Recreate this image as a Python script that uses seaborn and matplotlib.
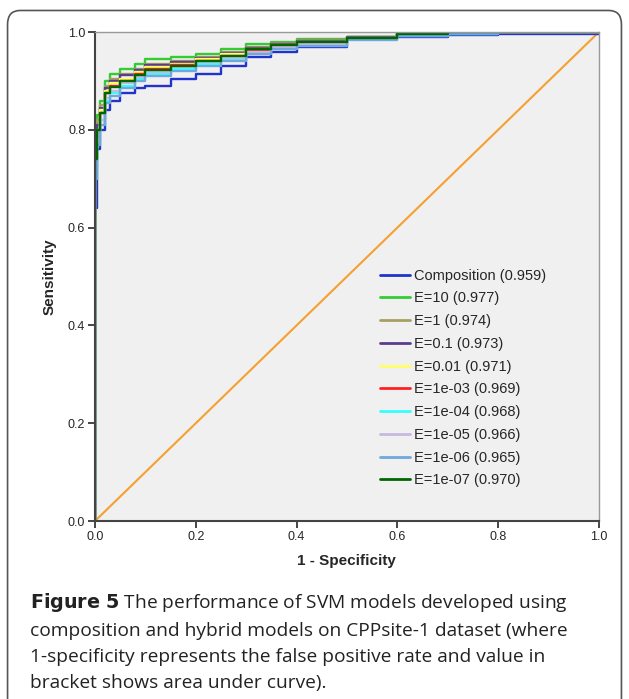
import numpy as np
import pandas as pd
import matplotlib.pyplot as plt
from matplotlib.patches import FancyBboxPatch
import seaborn as sns

sns.set_theme(style="white")
plt.rcParams["font.family"] = ["Liberation Sans", "DejaVu Sans"]

# ── DATA ──────────────────────────────────────────────────────
fpr = [0.0, 0.0, 0.005, 0.01, 0.02, 0.03, 0.05, 0.08, 0.1, 0.15, 0.2, 0.25, 0.3,
       0.35, 0.4, 0.5, 0.6, 0.7, 0.8, 1.0]
curves = {
    "Composition (0.959)": [0.0, 0.64, 0.76, 0.80, 0.84, 0.86, 0.875, 0.885, 0.89, 0.905, 0.915, 0.93, 0.95, 0.96, 0.97, 0.985, 0.99, 0.995, 0.997, 1.0],
    "E=10 (0.977)":        [0.0, 0.80, 0.83, 0.86, 0.90, 0.915, 0.925, 0.935, 0.945, 0.95, 0.955, 0.965, 0.975, 0.98, 0.985, 0.99, 1.0, 1.0, 1.0, 1.0],
    "E=1 (0.974)":         [0.0, 0.78, 0.82, 0.85, 0.89, 0.905, 0.915, 0.925, 0.935, 0.94, 0.95, 0.96, 0.97, 0.978, 0.983, 0.99, 0.997, 1.0, 1.0, 1.0],
    "E=0.1 (0.973)":       [0.0, 0.77, 0.81, 0.845, 0.885, 0.90, 0.912, 0.922, 0.932, 0.938, 0.948, 0.958, 0.968, 0.976, 0.982, 0.99, 0.996, 1.0, 1.0, 1.0],
    "E=0.01 (0.971)":      [0.0, 0.76, 0.80, 0.84, 0.88, 0.895, 0.905, 0.918, 0.928, 0.935, 0.945, 0.955, 0.965, 0.974, 0.98, 0.988, 0.995, 1.0, 1.0, 1.0],
    "E=1e-03 (0.969)":     [0.0, 0.76, 0.80, 0.835, 0.875, 0.89, 0.90, 0.915, 0.925, 0.932, 0.942, 0.952, 0.963, 0.972, 0.978, 0.987, 0.995, 0.998, 1.0, 1.0],
    "E=1e-04 (0.968)":     [0.0, 0.72, 0.78, 0.82, 0.86, 0.875, 0.89, 0.905, 0.915, 0.925, 0.935, 0.945, 0.958, 0.968, 0.975, 0.985, 0.993, 0.997, 1.0, 1.0],
    "E=1e-05 (0.966)":     [0.0, 0.72, 0.78, 0.82, 0.865, 0.88, 0.895, 0.908, 0.918, 0.928, 0.938, 0.948, 0.96, 0.97, 0.976, 0.986, 0.994, 0.998, 1.0, 1.0],
    "E=1e-06 (0.965)":     [0.0, 0.70, 0.77, 0.81, 0.855, 0.87, 0.885, 0.90, 0.91, 0.92, 0.93, 0.942, 0.955, 0.965, 0.972, 0.984, 0.992, 0.997, 1.0, 1.0],
    "E=1e-07 (0.970)":     [0.0, 0.74, 0.80, 0.835, 0.875, 0.888, 0.90, 0.912, 0.922, 0.93, 0.94, 0.952, 0.965, 0.973, 0.98, 0.988, 0.996, 1.0, 1.0, 1.0],
}
colors = ["#2233cc", "#33cc33", "#a8a060", "#5a3d8a", "#ffff66",
          "#ff2020", "#33ffff", "#c8b8e0", "#6fa8dc", "#006600"]

rows = []
for name, tpr in curves.items():
    for x, y in zip(fpr, tpr):
        rows.append({"fpr": x, "tpr": y, "model": name})
df = pd.DataFrame(rows)

# ── PLOT ─────────────────────────────────────────────────────
fig = plt.figure(figsize=(6.29, 6.99), dpi=100)
ax = fig.add_axes([0.151, 0.2546, 0.801, 0.6994])
ax.set_facecolor("#f0f0f0")

ax.plot([0, 1], [0, 1], color="#f5a030", linewidth=1.5, zorder=1)
sns.lineplot(data=df, x="fpr", y="tpr", hue="model", palette=colors,
             drawstyle="steps-post", linewidth=1.7, ax=ax, sort=False,
             estimator=None)

ticks = np.arange(0, 1.01, 0.2)
ax.set_xlim(0, 1)
ax.set_ylim(0, 1)
ax.set_xticks(ticks)
ax.set_yticks(ticks)
ax.set_xticklabels([f"{v:.1f}" for v in ticks], fontsize=9)
ax.set_yticklabels([f"{v:.1f}" for v in ticks], fontsize=9)
ax.tick_params(direction="out", length=5, width=1.2, bottom=True, left=True, pad=2)
ax.set_xlabel("1 - Specificity", fontsize=11, fontweight="bold", labelpad=8)
ax.set_ylabel("Sensitivity", fontsize=11, fontweight="bold", labelpad=8)
for s in ["left", "bottom"]:
    ax.spines[s].set_color("#444444")
    ax.spines[s].set_linewidth(1.5)
for s in ["top", "right"]:
    ax.spines[s].set_color("#999999")
    ax.spines[s].set_linewidth(1.0)

leg = ax.legend(loc="upper left", bbox_to_anchor=(0.555, 0.528), frameon=False,
                fontsize=10.5, handlelength=2.0, handletextpad=0.3, labelspacing=0.6,
                borderaxespad=0)
for h in leg.get_lines():
    h.set_linewidth(2)

cap_font = ["Open Sans", "DejaVu Sans"]
fig.text(0.048, 0.155,
         r"$\bf{Figure\ 5}$ The performance of SVM models developed using" "\n"
         "composition and hybrid models on CPPsite-1 dataset (where\n"
         "1-specificity represents the false positive rate and value in\n"
         "bracket shows area under curve).",
         fontsize=13.8, color="#222222", va="top", linespacing=1.58,
         family=cap_font)

fig.patches.append(FancyBboxPatch((0.012, -0.05), 0.976, 1.035,
                                  boxstyle="round,pad=0,rounding_size=0.02",
                                  transform=fig.transFigure, fill=False,
                                  edgecolor="#555555", linewidth=1.2))

plt.savefig("out.png", dpi=100)
